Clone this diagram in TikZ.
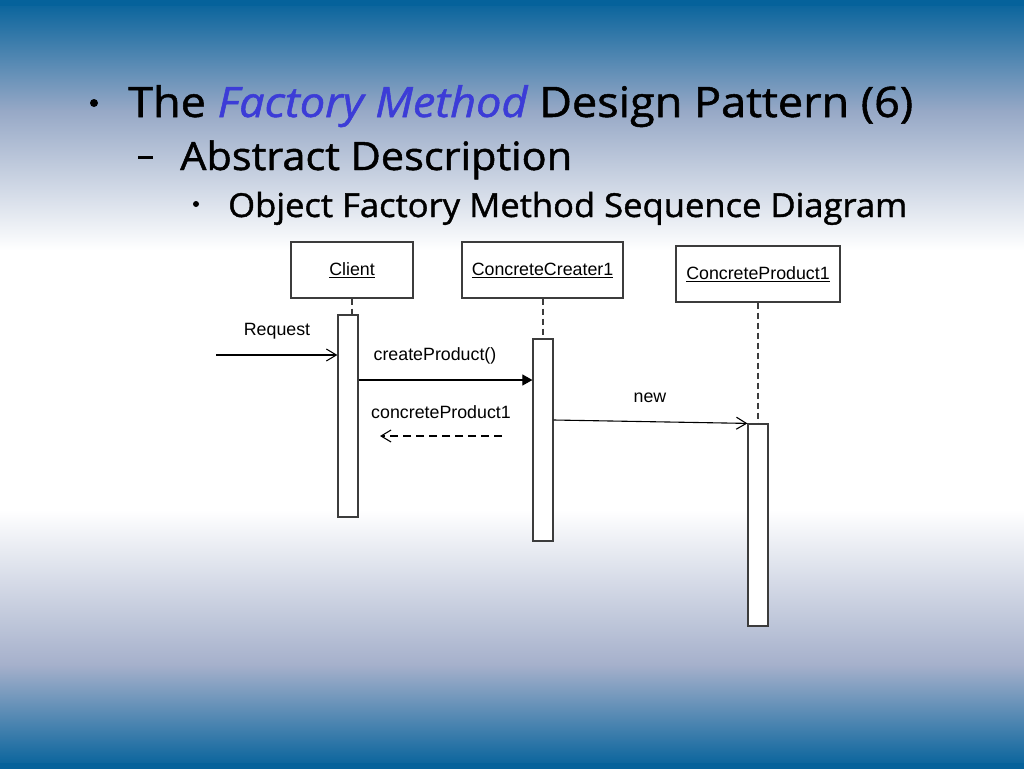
\documentclass[tikz,border=0pt]{standalone}
\usepackage{fontspec}
\setmainfont{Liberation Sans}
\newfontfamily\titlefont[FakeBold=1.2]{Open Sans}
\usetikzlibrary{arrows.meta}
\definecolor{bgblue}{RGB}{5,98,155}
\definecolor{bgmid}{RGB}{150,168,198}
\definecolor{bgmidb}{RGB}{165,176,203}
\definecolor{factblue}{RGB}{60,60,215}
\definecolor{linegray}{RGB}{60,60,60}
\tikzset{
  objbox/.style={draw=linegray, line width=1.2pt, fill=white, minimum height=56pt, inner sep=0pt, font=\fontsize{17.8}{20}\selectfont},
  actbox/.style={draw=linegray, line width=1.2pt, fill=white, minimum width=20pt, inner sep=0pt},
  lifeline/.style={draw=linegray, line width=1.2pt, dash pattern=on 6pt off 4pt},
  msg/.style={draw=black, line width=1.1pt},
  openhead/.style={-{Straight Barb[length=10pt,width=12pt,line width=1.1pt]}},
  fillhead/.style={-{Triangle[length=10pt,width=11pt]}},
  lbl/.style={font=\fontsize{17.8}{20}\selectfont, inner sep=0pt},
  titletxt/.style={anchor=base west, inner sep=0pt}
}
\begin{document}
\begin{tikzpicture}[x=1pt,y=-1pt]
\useasboundingbox (0,0) rectangle (1024,768);
% background
\fill[white] (0,0) rectangle (1024,768);
\shade[top color=bgblue, bottom color=bgmid] (0,0) rectangle (1024,110.5);
\shade[top color=bgmid, bottom color=white] (0,110) rectangle (1024,250);
\shade[top color=white, bottom color=bgmidb] (0,510) rectangle (1024,665.5);
\shade[top color=bgmidb, bottom color=bgblue] (0,665) rectangle (1024,768);
\fill[bgblue] (0,0) rectangle (1024,6);
\fill[bgblue] (0,763) rectangle (1024,768);

% title text
\node[titletxt] (t1) at (128,117) {\resizebox{785pt}{\height}{\titlefont\fontsize{42}{48}\selectfont The \textcolor{factblue}{\itshape Factory Method} Design Pattern (6)}};
\node[titletxt] (t2) at (180,170) {\resizebox{392pt}{\height}{\titlefont\fontsize{39}{44}\selectfont Abstract Description}};
\node[titletxt] (t3) at (228,217) {\resizebox{679pt}{\height}{\titlefont\fontsize{33}{38}\selectfont Object Factory Method Sequence Diagram}};
\fill (94,103) circle (4pt);
\fill (138,155.5) rectangle (153,158.5);
\fill (196,204) circle (3pt);

% object boxes
\node[objbox, minimum width=122pt] (client) at (352,270) {\underline{Client}};
\node[objbox, minimum width=161pt] (creater) at (542.5,270) {\underline{ConcreteCreater1}};
\node[objbox, minimum width=164pt] (product) at (758,274) {\underline{ConcreteProduct1}};

% activation boxes
\node[actbox, minimum height=202pt] (aclient) at (348,416) {};
\node[actbox, minimum height=202pt] (acreater) at (543,440) {};
\node[actbox, minimum height=202pt] (aproduct) at (758,525) {};

% lifelines
\draw[lifeline] (client.south) -- (client.south |- aclient.north);
\draw[lifeline] (creater.south -| acreater.north) -- (acreater.north);
\draw[lifeline] (product.south) -- (aproduct.north);

% messages
\coordinate (reqstart) at (216,355);
\draw[msg, openhead] (reqstart) -- (reqstart -| aclient.west);
\node[lbl] (lreq) at (277,331) {Request};

\draw[msg, fillhead] (aclient.east |- 0,380) -- (acreater.west |- 0,380);
\node[lbl] (lcreate) at (435,356) {createProduct()};

\coordinate (retstart) at (502,436);
\coordinate (retend) at (380,436);
\draw[msg, dash pattern=on 8pt off 5pt, -{Straight Barb[length=10pt,width=12pt,line width=1.1pt]}] (retstart) -- (retend);
\node[lbl] (lret) at (441,412) {concreteProduct1};

\draw[msg, openhead] (acreater.east |- 0,420) -- (aproduct.north west);
\node[lbl] (lnew) at (650,398) {new};
\end{tikzpicture}
\end{document}
